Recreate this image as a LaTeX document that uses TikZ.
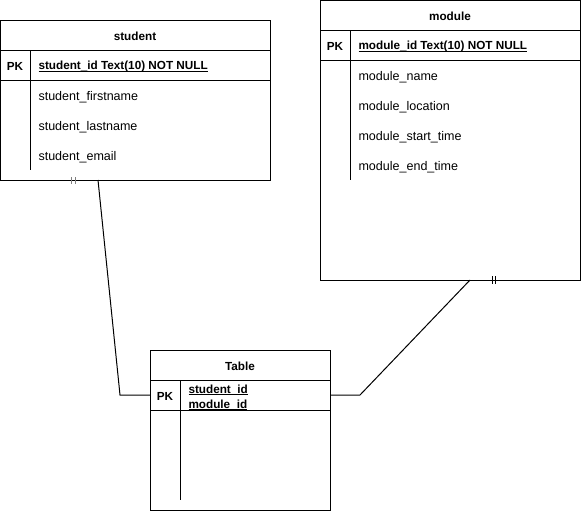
\documentclass[tikz,border=0pt]{standalone}
\usepackage{fontspec}
\setmainfont{Liberation Sans}
\newcommand\ulx[1]{\setbox0\hbox{#1}\rlap{\rule[-1.3pt]{\wd0}{0.6pt}}\box0}
\begin{document}
\begin{tikzpicture}[x=0.75pt,y=-0.75pt, line width=0.75pt,
  font=\fontsize{9.4}{11}\selectfont,
  ent/.style={draw, anchor=north west, inner sep=0pt, outer sep=0pt},
  rowbox/.style={anchor=north west, inner sep=0pt, outer sep=0pt},
  hdr/.style={font=\fontsize{8.8}{11}\selectfont\bfseries, inner sep=0pt, yshift=-1.3pt},
  fld/.style={anchor=west, inner sep=0pt, yshift=-1.3pt},
  keyfld/.style={anchor=west, inner sep=0pt, yshift=-1.3pt, font=\fontsize{8.8}{11}\selectfont\bfseries},
  tick/.style={line width=0.75pt}]
\useasboundingbox (0,0) rectangle (581,511);

% ---------- student ----------
\node[ent, minimum width=269.5*0.75pt, minimum height=160*0.75pt] (student) at (0.5,20) {};
\draw (0.5,50) -- (270,50);
\draw (0.5,80) -- (270,80);
\draw (30,50) -- (30,170);
\node[hdr] (sT) at (135,35) {student};
\node[hdr] (sPK) at (15,65) {PK};
\node[keyfld] (s0) at (38,65) {\ulx{student\_id Text(10) NOT NULL}};
\node[fld] (s1) at (38,95) {student\_firstname};
\node[fld] (s2) at (38,125) {student\_lastname};
\node[fld] (s3) at (38,155) {student\_email};

% ---------- module ----------
\node[ent, minimum width=260*0.75pt, minimum height=279.5*0.75pt] (module) at (320,0.5) {};
\draw (320,30) -- (580,30);
\draw (320,60) -- (580,60);
\draw (350,30) -- (350,180);
\node[hdr] (mT) at (450,15) {module};
\node[hdr] (mPK) at (335,45) {PK};
\node[keyfld] (m0) at (358,45) {\ulx{module\_id Text(10) NOT NULL}};
\node[fld] (m1) at (358,75) {module\_name};
\node[fld] (m2) at (358,105) {module\_location};
\node[fld] (m3) at (358,135) {module\_start\_time};
\node[fld] (m4) at (358,165) {module\_end\_time};

% ---------- Table ----------
\node[ent, minimum width=180*0.75pt, minimum height=160*0.75pt] (tbl) at (150,350) {};
\node[rowbox, minimum width=180*0.75pt, minimum height=30*0.75pt] (tpk) at (150,380) {};
\draw (150,380) -- (330,380);
\draw (150,410) -- (330,410);
\draw (180,380) -- (180,500);
\node[hdr] (tT) at (240,365) {Table};
\node[hdr] (tPK) at (165,395) {PK};
\node[keyfld] (t0) at (188,388) {\ulx{student\_id}};
\node[keyfld] (t1) at (188,403) {\ulx{module\_id}};

% ---------- connectors ----------
\coordinate (sfk) at (98,180);
\coordinate (mfk) at (470,280);
\draw (sfk) -- (120,395) -- (tpk.west);
\draw (tpk.east) -- (360,395) -- (mfk);
\draw[tick, gray] (71.5,177) -- (71.5,184);
\draw[tick, gray] (75.5,177) -- (75.5,184);
\draw[tick] (492.5,276) -- (492.5,284);
\draw[tick] (495.5,276) -- (495.5,284);
\end{tikzpicture}
\end{document}
